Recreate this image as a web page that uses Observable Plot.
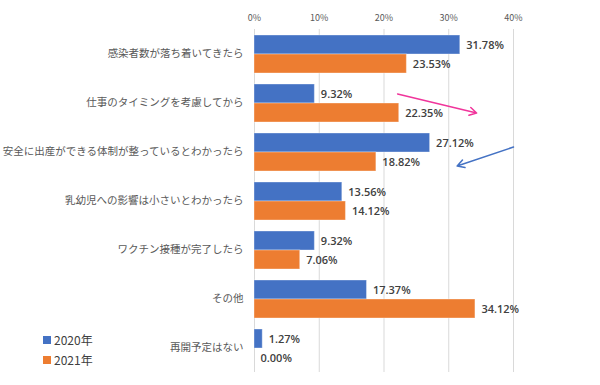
<!DOCTYPE html>
<html>
<head>
<meta charset="utf-8">
<script src="https://cdn.jsdelivr.net/npm/d3@7"></script>
<script src="https://cdn.jsdelivr.net/npm/@observablehq/plot@0.6"></script>
<style>
  body { margin: 0; background: #fff; }
  #wrap { position: relative; width: 600px; height: 385px; }
  #chart svg { font-family: "Noto Sans CJK JP", "Noto Sans", sans-serif; }
  #chart [aria-label^="fy-axis"] text { font-size: 10.5px; fill: #595959; }
  #chart [aria-label^="x-axis"] text { font-size: 9px; fill: #595959; }
  .legend { position: absolute; left: 43px; font: 12px "Noto Sans CJK JP", "Noto Sans", sans-serif; color: #404040; display: flex; align-items: center; }
  .legend span.sw { display: inline-block; width: 8px; height: 8px; margin-right: 3px; }
</style>
</head>
<body>
<div id="wrap">
  <div id="chart"></div>
  <div class="legend" style="top:331px"><span class="sw" style="background:#4472C4"></span>2020年</div>
  <div class="legend" style="top:351px"><span class="sw" style="background:#ED7D31"></span>2021年</div>
</div>
<script>
const categories = [
  "感染者数が落ち着いてきたら",
  "仕事のタイミングを考慮してから",
  "安全に出産ができる体制が整っているとわかったら",
  "乳幼児への影響は小さいとわかったら",
  "ワクチン接種が完了したら",
  "その他",
  "再開予定はない"
];
const years = ["2020年", "2021年"];
const values2020 = [31.78, 9.32, 27.12, 13.56, 9.32, 17.37, 1.27];
const values2021 = [23.53, 22.35, 18.82, 14.12, 7.06, 34.12, 0.00];
const xTicks = [0, 10, 20, 30, 40];
const colors = ["#4472C4", "#ED7D31"];

// annotation arrows (data space)
const pinkArrow = [{cat: categories[1], x1: 22.1, x2: 34.3, y1: years[0], y2: years[1]}];
const blueArrow = [{cat: categories[2], x1: 40.0, x2: 31.3, y1: years[0], y2: years[1]}];

const rows = [];
categories.forEach((c, i) => {
  rows.push({cat: c, year: years[0], value: values2020[i]});
  rows.push({cat: c, year: years[1], value: values2021[i]});
});

const chart = Plot.plot({
  width: 600,
  height: 385,
  marginTop: 26,
  marginBottom: 11,
  marginLeft: 254,
  marginRight: 87,
  x: {domain: [0, 40], axis: "top", ticks: xTicks, tickFormat: d => d + "%", tickSize: 0, tickPadding: 9, label: null},
  y: {domain: years, axis: null, paddingInner: 0, paddingOuter: 0.25},
  fy: {domain: categories, axis: "left", label: null, tickSize: 0, tickPadding: 11, paddingInner: 0, paddingOuter: 0},
  color: {domain: years, range: colors},
  marks: [
    Plot.ruleX(xTicks, {stroke: "#d9d9d9", strokeWidth: 1}),
    Plot.barX(rows, {x: "value", y: "year", fy: "cat", fill: "year", stroke: "#ffffff", strokeOpacity: 0.35, strokeWidth: 1}),
    Plot.text(rows, {x: "value", y: "year", fy: "cat", text: d => d.value.toFixed(2) + "%", textAnchor: "start", dx: 6, fill: "#404040", fontSize: 11, fontWeight: 600, fontFamily: "'Open Sans', 'Noto Sans', sans-serif"}),
    Plot.arrow(pinkArrow, {x1: "x1", x2: "x2", y1: "y1", y2: "y2", fy: "cat", stroke: "#F0359B", strokeWidth: 1.5, headLength: 8}),
    Plot.arrow(blueArrow, {x1: "x1", x2: "x2", y1: "y1", y2: "y2", fy: "cat", stroke: "#4472C4", strokeWidth: 1.5, headLength: 8, dy: 4})
  ]
});
document.getElementById("chart").appendChild(chart);
</script>
</body>
</html>
